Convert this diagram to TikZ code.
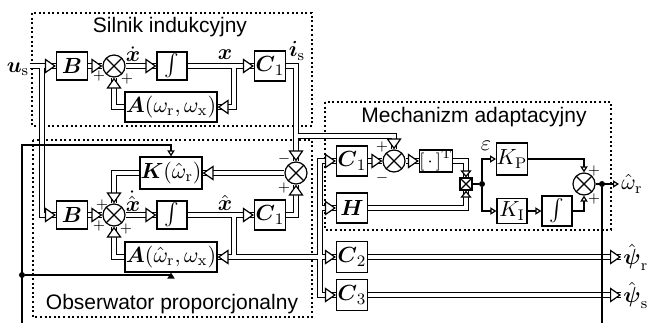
\documentclass[tikz,border=0pt]{standalone}
\usepackage{amsmath}
\usepackage{fontspec}
\setsansfont{Liberation Sans}
\usetikzlibrary{arrows.meta,calc,positioning}
\newcommand{\bx}{\boldsymbol{x}}
\newcommand{\omr}{\omega_\mathrm{r}}
\newcommand{\omx}{\omega_\mathrm{x}}
\newcommand{\omrh}{\hat{\omega}_\mathrm{r}}
\pgfdeclarelayer{frames}
\pgfdeclarelayer{busout}
\pgfdeclarelayer{busin}
\pgfsetlayers{frames,busout,busin,main}
\newcommand{\bus}[2][]{%
  \begin{pgfonlayer}{busout}\draw[line width=3.4pt] #2;\end{pgfonlayer}%
  \begin{pgfonlayer}{busin}\draw[white,line width=2.2pt] #2;\end{pgfonlayer}%
  \draw[white,line width=0.1pt,#1] #2;}
\tikzset{
  cross/.style={path picture={\draw[line width=0.6pt]
    (path picture bounding box.north west) -- (path picture bounding box.south east)
    (path picture bounding box.north east) -- (path picture bounding box.south west);}},
  blk/.style={draw, line width=0.6pt, fill=white, inner sep=0pt, minimum width=15.5pt, minimum height=14pt},
  sum/.style={circle, draw, line width=0.6pt, fill=white, inner sep=0pt, minimum size=11pt, cross},
  mul/.style={draw, line width=0.6pt, fill=white, inner sep=0pt, minimum size=6pt, cross},
  dot/.style={circle, fill, inner sep=0pt, minimum size=3pt},
  sgn/.style={inner sep=0pt, font=\fontsize{7.5}{7.5}\selectfont},
  lab/.style={font=\fontsize{10.5}{12}\sffamily},
  frame/.style={line width=0.6pt, dash pattern=on 1pt off 1.3pt},
  sig/.style={line width=0.6pt},
  stip/.style={sig, -{Triangle[open, length=3pt, width=3.6pt]}},
  vtip/.style={-{Triangle[color=black, fill=white, length=5.5pt, width=7.5pt, line width=0.6pt]}},
  vtips/.style={-{Triangle[color=black, fill=white, length=3.5pt, width=5.5pt, line width=0.6pt]}},
}
\begin{document}
\begin{tikzpicture}[x=0.5pt, y=-0.5pt, font=\fontsize{11}{13}\selectfont]
\useasboundingbox (0,0) rectangle (649,323);

\begin{pgfonlayer}{frames}
	\draw[frame] (32,13) rectangle (312,126);
	\draw[frame] (33,140) rectangle (312,317);
	\draw[frame] (325,102) rectangle (611,230);
\end{pgfonlayer}

	\node[lab] (t1) at (170,27) {Silnik indukcyjny};
	\node[inner sep=0pt] (us) at (18,69) {$\boldsymbol{u}_\mathrm{s}$};
	\node[blk] (b1) at (72,66) {$\boldsymbol{B}$};
	\node[sum] (s1) at (114,66) {};
	\node[blk, minimum width=15pt] (i1) at (172,66) {$\int$};
	\node[blk, minimum height=15pt] (c1) at (270,66) {$\boldsymbol{C}_1$};
	\node[blk, minimum width=46pt, minimum height=15pt] (a1) at (171,107) {$\boldsymbol{A}(\omr,\omx)$};
	\coordinate (j0) at (42,66);
	\coordinate (j1) at (234,66);
	\coordinate (j2) at (296,136);

	\node[lab] (t2) at (172,304) {Obserwator proporcjonalny};
	\node[blk] (b2) at (72,215) {$\boldsymbol{B}$};
	\node[sum] (s2) at (114,215) {};
	\node[blk, minimum width=15pt] (i2) at (172,215) {$\int$};
	\node[blk, minimum height=15pt] (c2) at (270,215) {$\boldsymbol{C}_1$};
	\node[blk, minimum width=46pt, minimum height=15pt] (a2) at (171,257) {$\boldsymbol{A}(\omrh,\omx)$};
	\node[blk, minimum width=31pt, minimum height=16pt] (k2) at (171,173) {$\boldsymbol{K}(\omrh)$};
	\node[sum] (e2) at (296,173) {};
	\coordinate (j5) at (234,215);
	\coordinate (j3) at (234,257);
	\coordinate (j4) at (320,257);

	\node[lab] (t3) at (474,117) {Mechanizm adaptacyjny};
	\node[blk, minimum height=15pt] (ca) at (352,161) {$\boldsymbol{C}_1$};
	\node[sum] (sa) at (394,161) {};
	\node[blk, minimum width=16pt, minimum height=11pt, font=\fontsize{9}{10}\selectfont] (tr) at (436,161) {$[\,\cdot\,]^\mathrm{T}$};
	\node[blk, minimum height=15pt] (ha) at (352,208) {$\boldsymbol{H}$};
	\node[mul] (mx) at (466,184) {};
	\node[dot] (d1) at (482,184) {};
	\node[blk, minimum width=15pt, minimum height=16pt] (kp) at (512,159) {$K_\mathrm{P}$};
	\node[blk, minimum width=15pt, minimum height=12.5pt] (ki) at (512,211) {$K_\mathrm{I}$};
	\node[blk, minimum width=15pt, minimum height=15pt] (ia) at (557,211) {$\int$};
	\node[sum] (so) at (584,184) {};
	\node[dot] (d2) at (602,184) {};
	\node[anchor=west, inner sep=1pt] (wo) at (619,184) {$\omrh$};
	\node[blk, minimum height=15.5pt] (cr) at (352,257) {$\boldsymbol{C}_2$};
	\node[blk, minimum height=15.5pt] (cs) at (352,295) {$\boldsymbol{C}_3$};
	\node[anchor=west, inner sep=1pt] (pr) at (621,257) {$\hat{\boldsymbol{\psi}}_\mathrm{r}$};
	\node[anchor=west, inner sep=1pt] (ps) at (621,295) {$\hat{\boldsymbol{\psi}}_\mathrm{s}$};

	\node at (133,54) {$\dot{\bx}$};
	\node at (225,55) {$\bx$};
	\node at (297,51) {$\boldsymbol{i}_\mathrm{s}$};
	\node at (133,201) {$\dot{\hat{\bx}}$};
	\node at (225,203) {$\hat{\bx}$};
	\node at (486,146) {$\varepsilon$};

	\node[sgn] at ($(s1)+(-15,10)$) {$+$};
	\node[sgn] at ($(s1)+(13,13)$) {$+$};
	\node[sgn] at ($(s2)+(-12,-10)$) {$+$};
	\node[sgn] at ($(s2)+(-15,11)$) {$+$};
	\node[sgn] at ($(s2)+(12,14)$) {$+$};
	\node[sgn] at ($(e2)+(-12,-14)$) {$-$};
	\node[sgn] at ($(e2)+(-12,15)$) {$+$};
	\node[sgn] at ($(sa)+(-12,-14)$) {$+$};
	\node[sgn] at ($(sa)+(-12,17)$) {$-$};
	\node[sgn] at ($(so)+(10,-13)$) {$+$};
	\node[sgn] at ($(so)+(10,15)$) {$+$};

	\bus[vtip]{(us.east |- b1.west) -- (b1.west)}
	\bus[vtip]{(b1.east) -- (s1.west)}
	\bus[vtip]{(s1.east) -- (i1.west)}
	\bus[vtip]{(i1.east) -- (c1.west)}
	\bus[vtip]{(j1) |- (a1.east)}
	\bus[vtip]{(a1.west) -| (s1.south)}
	\bus[vtip]{(c1.east) -| (e2.north)}
	\bus[vtip]{(j2) -| (sa.north)}
	\bus[vtip]{(j0) |- (b2.west)}

	\bus[vtip]{(b2.east) -- (s2.west)}
	\bus[vtip]{(s2.east) -- (i2.west)}
	\bus[vtip]{(i2.east) -- (c2.west)}
	\bus[vtip]{(c2.east) -| (e2.south)}
	\bus[vtip]{(e2.west) -- (k2.east)}
	\bus[vtip]{(k2.west) -| (s2.north)}
	\bus[vtip]{(a2.west) -| (s2.south)}
	\bus{(j5) -- (j3)}
	\bus[vtip]{(j3) -- (a2.east)}
	\bus[vtip]{(j3) -- (cr.west)}
	\bus[vtip]{(j4) |- (ca.west)}
	\bus[vtip]{(j4) |- (ha.west)}
	\bus[vtip]{(j4) |- (cs.west)}

	\bus[vtip]{(ca.east) -- (sa.west)}
	\bus[vtip]{(sa.east) -- (tr.west)}
	\bus[vtips]{(tr.east) -| (mx.north)}
	\bus[vtips]{(ha.east) -| (mx.south)}
	\bus[vtip]{(cr.east) -- (pr.west)}
	\bus[vtip]{(cs.east) -- (ps.west)}

	\coordinate (w0) at (22,145);
	\coordinate (wl) at (22,323);
	\coordinate (wr) at (602,323);
	\node[dot] (d0) at (22,275) {};
	\draw[stip] (wl) -- (w0) -| (k2.north);
	\draw[stip] (d0) -| (a2.south);
	\draw[sig] (d2) -- (wr);
	\draw[sig] (mx.east) -- (d1);
	\draw[stip] (d1) |- (kp.west);
	\draw[stip] (d1) |- (ki.west);
	\draw[stip] (ki) -- (ia);
	\draw[stip] (kp.east) -| (so.north);
	\draw[stip] (ia.east) -| (so.south);
	\draw[stip] (so.east) -- (wo.west);
\end{tikzpicture}
\end{document}
